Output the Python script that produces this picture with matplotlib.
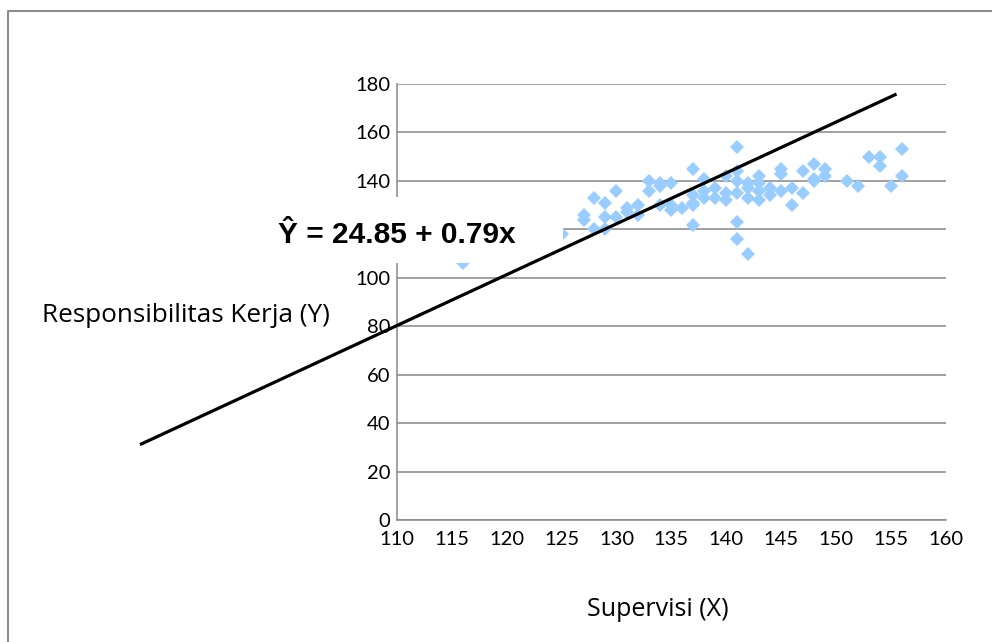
import numpy as np
import matplotlib.pyplot as plt
from matplotlib.patches import Rectangle
from matplotlib.lines import Line2D

# Supervisi (X) vs Responsibilitas Kerja (Y)
supervisi = [116, 125, 127, 127, 128, 128, 129, 129, 129, 130, 130, 131, 131,
             132, 132, 133, 133, 134, 134, 134, 135, 135, 135, 136,
             137, 137, 137, 137, 137, 138, 138, 138, 139, 139,
             140, 140, 140, 141, 141, 141, 141, 141, 141,
             142, 142, 142, 142, 143, 143, 143, 143, 144, 144,
             145, 145, 145, 146, 146, 147, 147, 148, 148, 148,
             149, 149, 151, 152, 153, 154, 154, 155, 156, 156]
responsibilitas = [106, 118, 126, 124, 133, 120, 131, 125, 120, 136, 125, 129, 127,
                   130, 126, 140, 136, 139, 138, 130, 139, 130, 128, 129,
                   145, 134, 131, 130, 122, 141, 136, 133, 137, 133,
                   142, 135, 132, 154, 144, 140, 135, 123, 116,
                   139, 137, 133, 110, 142, 139, 136, 132, 137, 134,
                   145, 143, 136, 137, 130, 144, 135, 147, 141, 140,
                   145, 142, 140, 138, 150, 150, 146, 138, 153, 142]

# hand-drawn regression line (end points as seen in the picture)
line_x = [86.7, 155.4]
line_y = [31.4, 175.6]

x_ticks = [110, 115, 120, 125, 130, 135, 140, 145, 150, 155, 160]
y_ticks = [0, 20, 40, 60, 80, 100, 120, 140, 160, 180]
# 120 sits under the equation box in the original, so it is not shown
y_ticklabels = ['0', '20', '40', '60', '80', '100', '', '140', '160', '180']

equation = "Ŷ = 24.85 + 0.79x"

plt.rcParams['font.family'] = ['Lato', 'DejaVu Sans']

fig = plt.figure(figsize=(9.92, 6.42), dpi=100)
ax = fig.add_axes([0.4002, 0.1900, 0.5530, 0.6791])

grid_col = '#888888'
ax.plot(supervisi, responsibilitas, linestyle='none', marker='D',
        markersize=6.8, color='#99CCFF', markeredgewidth=0, zorder=3)

ax.set_xlim(110, 160)
ax.set_ylim(0, 180)
ax.set_xticks(x_ticks)
ax.set_yticks(y_ticks)
ax.set_yticklabels(y_ticklabels)
ax.yaxis.grid(True, color=grid_col, linewidth=1.1)
ax.set_axisbelow(True)
for side in ['top', 'right']:
    ax.spines[side].set_visible(False)
for side in ['left', 'bottom']:
    ax.spines[side].set_color(grid_col)
    ax.spines[side].set_linewidth(1.1)
ax.tick_params(length=0, labelsize=14.5, colors='black')
ax.tick_params(axis='y', pad=5)
ax.tick_params(axis='x', pad=8)

ax.set_xlabel('Supervisi (X)', fontsize=18, family=['Open Sans', 'DejaVu Sans'])
ax.xaxis.set_label_coords(0.476, -0.177)
ax.set_ylabel('Responsibilitas Kerja (Y)', fontsize=18.8, rotation=0,
              ha='center', va='center', family=['Open Sans', 'DejaVu Sans'])
ax.yaxis.set_label_coords(-0.3855, 0.470)

# outer frame (only left and top show)
fig.add_artist(Line2D([0.0081, 0.0081, 1.0], [0.0, 0.9829, 0.9829],
                      transform=fig.transFigure, color='#8c8c8c', linewidth=1.5))

# white box under the equation hides part of the plot
fig.add_artist(Rectangle((0.267, 0.5903), 0.3004, 0.1028, transform=fig.transFigure,
                         facecolor='white', edgecolor='none', zorder=5))
fig.text(0.2802, 0.6215, equation, fontsize=21.5, fontweight='bold',
         family=['Liberation Sans', 'DejaVu Sans'], va='baseline', zorder=6)

# line drawn over everything, reaching past the axes
fig.add_artist(Line2D(line_x, line_y, transform=ax.transData, color='black',
                      linewidth=2.3, zorder=7))

fig.savefig('out.png', dpi=100)
